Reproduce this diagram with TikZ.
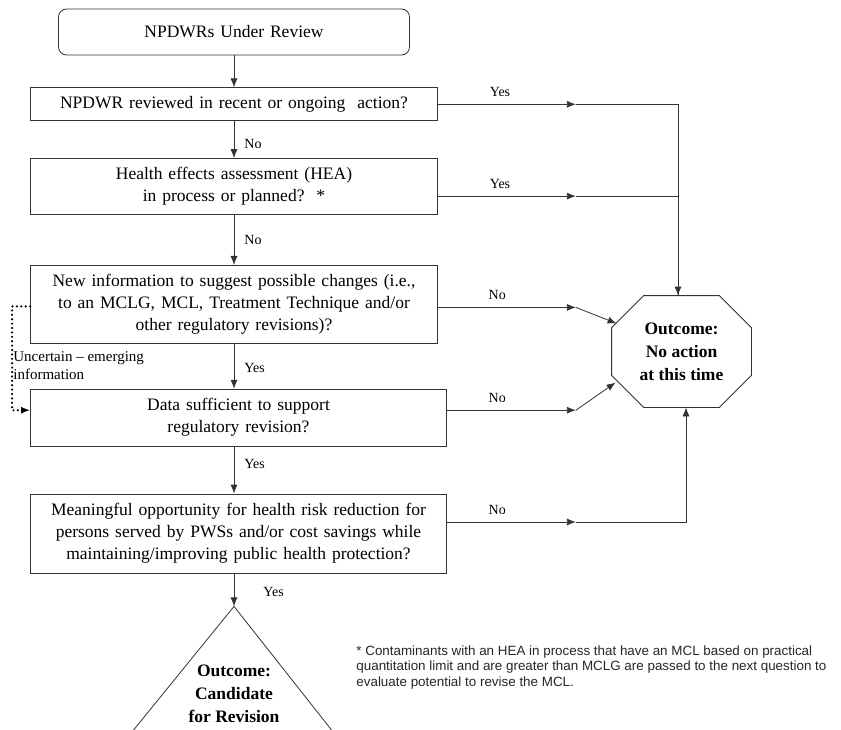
\documentclass[tikz,border=0pt]{standalone}
\usepackage{fontspec}
\setmainfont{Liberation Serif}
\newfontfamily\notefont{Liberation Sans}
\usetikzlibrary{positioning,arrows.meta}

\protected\def\widewords{\spaceskip=.34em plus .1em\relax}

\tikzset{
  box/.style={draw=black!80, line width=0.8pt, align=center, inner sep=0pt,
    minimum width=407pt, font=\fontsize{17.5}{22}\selectfont\widewords},
  widebox/.style={box, minimum width=416pt},
  startbox/.style={box, rounded corners=8pt, minimum width=351pt, minimum height=46pt},
  outcome/.style={align=center, inner sep=0pt, font=\bfseries\fontsize{17.5}{23}\selectfont},
  lbl/.style={inner sep=0pt, font=\fontsize{14}{16}\selectfont},
  dots/.style={draw=black, line width=2.4pt, line cap=round, dash pattern=on 0pt off 4.4pt},
}

\begin{document}
\begin{tikzpicture}[x=1pt, y=-1pt, line width=0.8pt, draw=black!80,
    >={Latex[length=9pt,width=7pt]}]

  \useasboundingbox (0,0) rectangle (841,730);

  \node[startbox] (start) at (234,32) {NPDWRs Under Review};
  \node[box, minimum height=33pt, below=32pt of start] (recent) {NPDWR reviewed in recent or ongoing\ \ action?};
  \node[box, minimum height=56pt, below=37pt of recent] (hea) {Health effects assessment (HEA)\\in process or planned?\ \ *};
  \node[box, minimum height=78pt, below=50pt of hea] (newinfo) {New information to suggest possible changes (i.e.,\\to an MCLG, MCL, Treatment Technique and/or\\other regulatory revisions)?};
  \node[widebox, minimum height=57pt, below=45pt of newinfo.south west, anchor=north west] (data) {Data sufficient to support\\regulatory revision?};
  \node[widebox, minimum height=79pt, below=47pt of data.south west, anchor=north west] (benefit) {Meaningful opportunity for health risk reduction for\\persons served by PWSs and/or cost savings while\\maintaining/improving public health protection?};

  \node[outcome, minimum width=139pt, minimum height=111pt] (noact) at (681.5,351.5) {Outcome:\\No action\\at this time};
  \draw ([xshift=32pt]noact.north west) -- ([xshift=-32pt]noact.north east)
    -- ([yshift=-32pt]noact.north east) -- ([yshift=32pt]noact.south east)
    -- ([xshift=-32pt]noact.south east) -- ([xshift=32pt]noact.south west)
    -- ([yshift=32pt]noact.south west) -- ([yshift=-32pt]noact.north west) -- cycle;

  \path (benefit.south -| newinfo.south) ++(0,33) coordinate (apex);
  \draw (apex) ++(-104,128) -- (apex) -- ++(101,128);
  \node[outcome, below=58pt of apex] (cand) {Outcome:\\Candidate\\for Revision};

  \node[lbl, anchor=west, align=left, font=\fontsize{15}{18}\selectfont] (unsure) at (13,366) {Uncertain – emerging\\information};

  \node[anchor=north west, align=left, inner sep=0pt, text=black!85,
    font=\notefont\fontsize{13.4}{15.5}\selectfont] (note) at (356,645)
    {* Contaminants with an HEA in process that have an MCL based on practical\\quantitation limit and are greater than MCLG are passed to the next question to\\evaluate potential to revise the MCL.};

  \draw[->] (start) -- (recent);
  \draw[->] (recent) -- node[lbl, right=10pt, pos=.62] {No} (hea);
  \draw[->] (hea) -- node[lbl, right=10pt] {No} (newinfo);
  \draw[->] (newinfo) -- node[lbl, right=10pt, pos=.53] {Yes} (data.north -| newinfo.south);
  \draw[->] (data.south -| newinfo.south) -- node[lbl, right=10pt, pos=.36] {Yes} (benefit.north -| newinfo.south);
  \draw[->] (benefit.south -| newinfo.south) -- node[lbl, right=29pt, pos=.55] {Yes} (apex);

  \draw[->] (recent.east) -- node[lbl, above=7pt, pos=.45] {Yes} ++(138,0) coordinate (yes1);
  \draw[->] ([yshift=-9.5pt]hea.east) -- node[lbl, above=7pt, pos=.45] {Yes} ++(138,0) coordinate (yes2);
  \draw (yes1) -| ([xshift=-3.5pt]noact.north);
  \draw[->] (yes2) -| ([xshift=-3.5pt]noact.north);

  \draw[->] ([yshift=-3pt]newinfo.east) -- node[lbl, above=7pt, pos=.43] {No} ++(138,0) coordinate (no3);
  \draw[->] (no3) -- ([shift={(5,-28)}]noact.west);
  \draw[->] ([yshift=7.5pt]data.east) -- node[lbl, above=7pt, pos=.39] {No} ++(129,0) coordinate (no4);
  \draw[->] (no4) -- ([shift={(4,31)}]noact.west);
  \draw[->] ([yshift=11.5pt]benefit.east) -- node[lbl, above=7pt, pos=.39] {No} ++(129,0) coordinate (no5);
  \draw[->] (no5) -| ([xshift=4.5pt]noact.south);

  \draw[dots, ->] ([yshift=-2pt]newinfo.west) -- ++(-18,0) |- ([yshift=7.5pt]data.west);

\end{tikzpicture}
\end{document}
